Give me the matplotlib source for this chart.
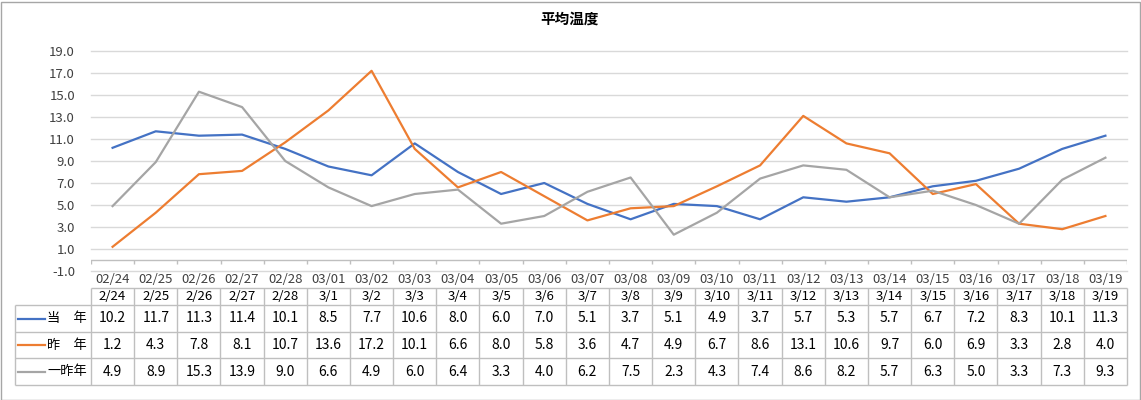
import numpy as np
import matplotlib
matplotlib.use('Agg')
import matplotlib.pyplot as plt
from matplotlib.patches import Rectangle

plt.rcParams['font.family'] = ['Noto Sans CJK JP', 'DejaVu Sans']

# Data
axis_labels = ["02/24", "02/25", "02/26", "02/27", "02/28", "03/01", "03/02", "03/03",
               "03/04", "03/05", "03/06", "03/07", "03/08", "03/09", "03/10", "03/11",
               "03/12", "03/13", "03/14", "03/15", "03/16", "03/17", "03/18", "03/19"]
table_labels = ["2/24", "2/25", "2/26", "2/27", "2/28", "3/1", "3/2", "3/3", "3/4", "3/5",
                "3/6", "3/7", "3/8", "3/9", "3/10", "3/11", "3/12", "3/13", "3/14", "3/15",
                "3/16", "3/17", "3/18", "3/19"]
this_year = [10.2, 11.7, 11.3, 11.4, 10.1, 8.5, 7.7, 10.6, 8.0, 6.0, 7.0, 5.1, 3.7, 5.1,
             4.9, 3.7, 5.7, 5.3, 5.7, 6.7, 7.2, 8.3, 10.1, 11.3]
last_year = [1.2, 4.3, 7.8, 8.1, 10.7, 13.6, 17.2, 10.1, 6.6, 8.0, 5.8, 3.6, 4.7, 4.9,
             6.7, 8.6, 13.1, 10.6, 9.7, 6.0, 6.9, 3.3, 2.8, 4.0]
two_years = [4.9, 8.9, 15.3, 13.9, 9.0, 6.6, 4.9, 6.0, 6.4, 3.3, 4.0, 6.2, 7.5, 2.3,
             4.3, 7.4, 8.6, 8.2, 5.7, 6.3, 5.0, 3.3, 7.3, 9.3]
series_names = ["当　年", "昨　年", "一昨年"]
colors = ["#4472C4", "#ED7D31", "#A5A5A5"]
series = [this_year, last_year, two_years]

W, H = 1141, 400
fig = plt.figure(figsize=(W / 100, H / 100), dpi=100)

# outer border
fig.patches.append(Rectangle((0.5 / W, 0.5 / H), 1 - 2 / W, 1 - 2 / H,
                             transform=fig.transFigure, fill=False,
                             edgecolor="#A6A6A6", linewidth=1))

fig.text(570 / W, 1 - 19 / H, "平均温度", ha="center", va="center",
         fontsize=10.5, fontweight="bold")

# main chart
left_px, right_px = 91, 1127
ax = fig.add_axes([left_px / W, 1 - 271 / H, (right_px - left_px) / W, 220 / H])
n = len(axis_labels)
x = np.arange(n)
for vals, c in zip(series, colors):
    ax.plot(x, vals, color=c, linewidth=1.6, solid_joinstyle="round", zorder=3)

yt = np.arange(-1, 20, 2)
ax.set_xlim(-0.5, n - 0.5)
ax.set_ylim(-1, 19)
ax.set_yticks(yt)
ax.set_yticklabels([f"{v:.1f}" for v in yt])
for v in yt:
    ax.axhline(v, color="#D9D9D9", linewidth=1, zorder=0, clip_on=False)
ax.tick_params(axis="y", length=0, pad=11.5, labelsize=9.5, labelcolor="#404040")
ax.set_xticks(x)
ax.set_xticklabels(axis_labels)
ax.tick_params(axis="x", length=0, pad=1.5, labelsize=9.5, labelcolor="#404040")
for s in ax.spines.values():
    s.set_visible(False)
# horizontal axis crosses at 0 with tick marks between categories
ax.axhline(0, color="#BFBFBF", linewidth=1, zorder=1)
ax.vlines(np.arange(n + 1) - 0.5, -0.35, 0, color="#BFBFBF", linewidth=1, zorder=1)

# data table
tb_left, tb_right, tb_top, tb_bot = 15, 1127, 288, 385
tax = fig.add_axes([tb_left / W, 1 - tb_bot / H, (tb_right - tb_left) / W,
                    (tb_bot - tb_top) / H])
col_w = (right_px - left_px) / n
x0 = -0.5 - (left_px - tb_left) / col_w
tax.set_xlim(x0, n - 0.5)
tax.set_ylim(tb_bot - tb_top, 0)
tax.axis("off")
rows = [0, 17, 44, 70, 97]
lc = "#BFBFBF"
tax.hlines(rows[0], -0.5, n - 0.5, color=lc, linewidth=1, clip_on=False)
tax.hlines(rows[1:], x0, n - 0.5, color=lc, linewidth=1, clip_on=False)
tax.vlines(np.arange(n + 1) - 0.5, rows[0], rows[-1], color=lc, linewidth=1, clip_on=False)
tax.vlines(x0, rows[1], rows[-1], color=lc, linewidth=1, clip_on=False)

for i, lab in enumerate(table_labels):
    tax.text(i, (rows[0] + rows[1]) / 2 + 0.5, lab, ha="center", va="center",
             fontsize=9.5, color="#000000")
for r, (name, vals, c) in enumerate(zip(series_names, series, colors)):
    yc = (rows[r + 1] + rows[r + 2]) / 2
    tax.plot([x0 + 3 / col_w, x0 + 30 / col_w], [yc, yc], color=c, linewidth=1.6)
    tax.text(-0.5 - 4 / col_w, yc, name, ha="right", va="center", fontsize=9.5)
    for i, v in enumerate(vals):
        tax.text(i, yc, f"{v:.1f}", ha="center", va="center", fontsize=10)

fig.savefig("out.png", dpi=100)
